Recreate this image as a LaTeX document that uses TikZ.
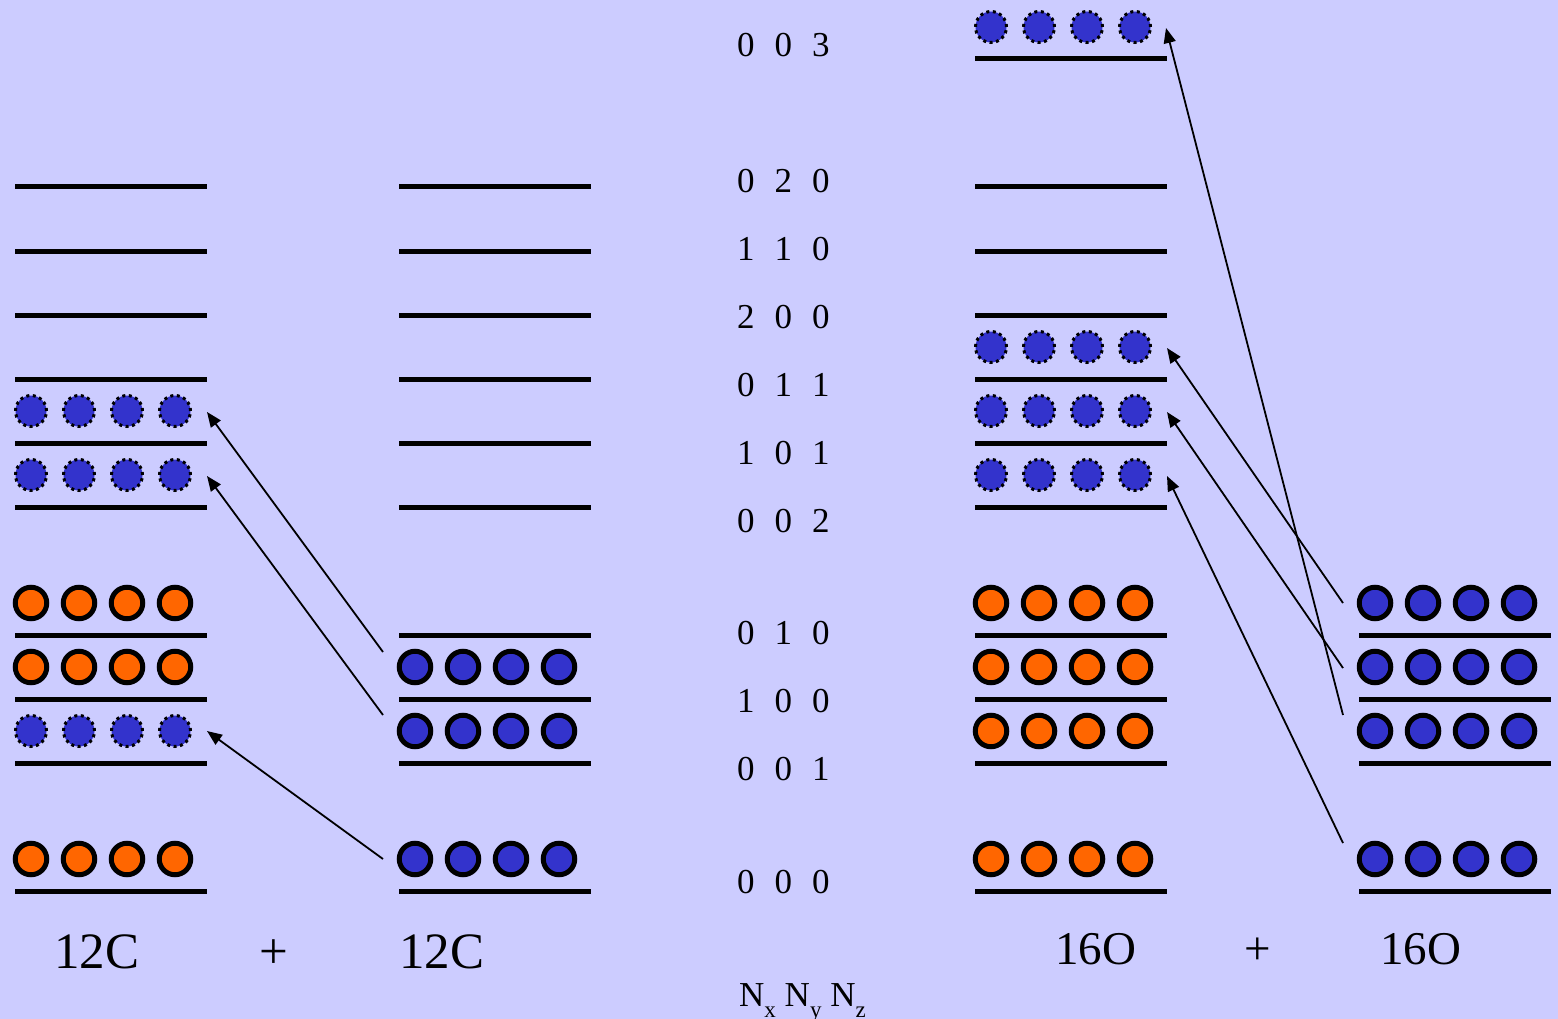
\documentclass[tikz,border=0pt]{standalone}
\usepackage{fontspec}
\setmainfont{Liberation Serif}
\usetikzlibrary{arrows.meta}
\definecolor{bgviolet}{HTML}{CCCCFF}
\definecolor{shellorange}{HTML}{FF6600}
\definecolor{shellblue}{HTML}{3333CC}
% quantum numbers N_x N_y N_z, evenly spaced
\newcommand\qnum[3]{#1\hspace{0.57em}#2\hspace{0.57em}#3}
% lowered axis index
\newcommand\axisidx[1]{\raisebox{-11pt}{\fontsize{23}{25}\selectfont #1}}

\begin{document}
\begin{tikzpicture}[x=1pt,y=-1pt,
  level/.style={line width=5pt},
  full orb/.style={circle, draw=black, line width=5pt, minimum size=31.5pt, inner sep=0pt},
  orange full/.style={full orb, fill=shellorange},
  blue full/.style={full orb, fill=shellblue},
  blue hole/.style={circle, draw=black, line width=3pt, dash pattern=on 3pt off 3.5pt,
                    fill=shellblue, minimum size=31pt, inner sep=0pt},
  transfer/.style={line width=1.8pt, -{Triangle[length=15pt,width=12pt]}},
  qn/.style={font=\fontsize{35}{40}\selectfont, anchor=west, inner sep=0pt},
  nucleus/.style={font=\fontsize{51}{58}\selectfont, anchor=base west, inner sep=0pt},
  plus/.style={font=\fontsize{51}{58}\selectfont, anchor=base, inner sep=0pt},
  small nucleus/.style={nucleus, font=\fontsize{47}{54}\selectfont},
  small plus/.style={plus, font=\fontsize{47}{54}\selectfont},
]
% background
\fill[bgviolet] (0,0) rectangle (1558,1019);
\useasboundingbox (0,0) rectangle (1558,1019);

% single-particle levels of the four level schemes
\foreach \y in {187,251,315,379,443,507,635,699,763,891}
  \draw[level] (15,\y) -- (207,\y);
\foreach \y in {187,251,315,379,443,507,635,699,763,891}
  \draw[level] (399,\y) -- (591,\y);
\foreach \y in {59,187,251,315,379,443,507,635,699,763,891}
  \draw[level] (975,\y) -- (1167,\y);
\foreach \y in {635,699,763,891}
  \draw[level] (1359,\y) -- (1551,\y);

% occupied orbits: four nucleons per row
\foreach \cx/\cy/\kind/\nm in {
    31/411/blue hole/La, 31/475/blue hole/Lb, 31/603/orange full/Lc,
    31/667/orange full/Ld, 31/731/blue hole/Le, 31/859/orange full/Lf,
    415/667/blue full/Ma, 415/731/blue full/Mb, 415/859/blue full/Mc,
    991/27/blue hole/Ra, 991/347/blue hole/Rb, 991/411/blue hole/Rc,
    991/475/blue hole/Rd, 991/603/orange full/Re, 991/667/orange full/Rf,
    991/731/orange full/Rg, 991/859/orange full/Rh,
    1375/603/blue full/Sa, 1375/667/blue full/Sb, 1375/731/blue full/Sc,
    1375/859/blue full/Sd}
  \foreach \k in {0,...,3}
    \node[\kind] (\nm-\k) at (\cx+48*\k,\cy) {};

% transfer arrows
\coordinate (t1s) at (383,652);  \coordinate (t1e) at (207,412);
\coordinate (t2s) at (383,715);  \coordinate (t2e) at (207,476);
\coordinate (t3s) at (383,859);  \coordinate (t3e) at (207,731);
\coordinate (t4s) at (1343,603); \coordinate (t4e) at (1167,348);
\coordinate (t5s) at (1343,668); \coordinate (t5e) at (1167,412);
\coordinate (t6s) at (1343,715); \coordinate (t6e) at (1166,28);
\coordinate (t7s) at (1343,843); \coordinate (t7e) at (1167,476);
\foreach \i in {1,...,7}
  \draw[transfer] (t\i s) -- (t\i e);

% quantum numbers of the levels
\node[qn] (q003) at (737,45)  {\qnum003};
\node[qn] (q020) at (737,181) {\qnum020};
\node[qn] (q110) at (737,249) {\qnum110};
\node[qn] (q200) at (737,317) {\qnum200};
\node[qn] (q011) at (737,385) {\qnum011};
\node[qn] (q101) at (737,453) {\qnum101};
\node[qn] (q002) at (737,521) {\qnum002};
\node[qn] (q010) at (737,633) {\qnum010};
\node[qn] (q100) at (737,701) {\qnum100};
\node[qn] (q001) at (737,769) {\qnum001};
\node[qn] (q000) at (737,882) {\qnum000};
\node[font=\fontsize{35}{40}\selectfont, anchor=base west, inner sep=0pt] (axes) at (739,1006)
  {N\axisidx{x} N\axisidx{y} N\axisidx{z}};

% nuclei
\node[nucleus] (c12a) at (54,968)   {12C};
\node[plus]    (plusl) at (274,968) {+};
\node[nucleus] (c12b) at (399,968)  {12C};
\node[small nucleus] (o16a) at (1055,964) {16O};
\node[small plus]    (plusr) at (1258,964) {+};
\node[small nucleus] (o16b) at (1380,964) {16O};
\end{tikzpicture}
\end{document}
